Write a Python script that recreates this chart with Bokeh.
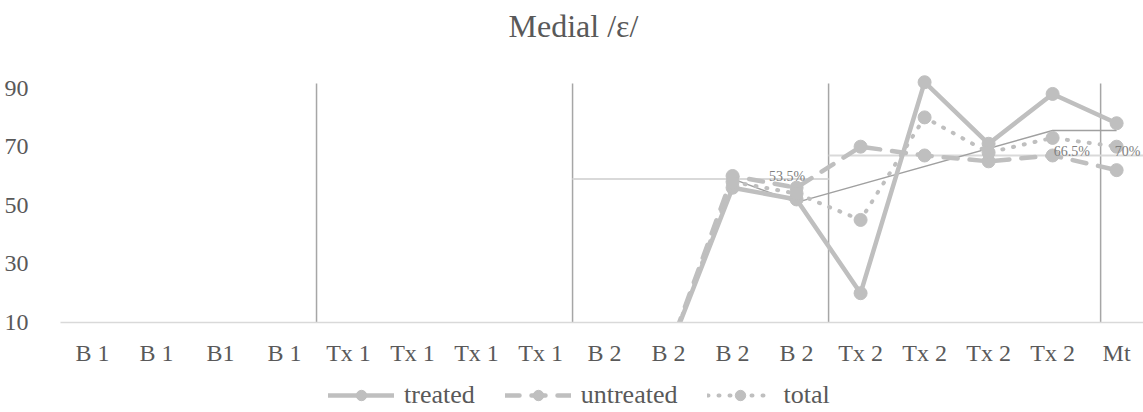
from bokeh.plotting import figure
from bokeh.layouts import column
from bokeh.models import Legend, LegendItem, FixedTicker, ColumnDataSource, Title
from bokeh.core.properties import value
from bokeh.embed import file_html
from bokeh.resources import INLINE

# ---- data ----
categories = ["B 1", "B 1", "B1", "B 1", "Tx 1", "Tx 1", "Tx 1", "Tx 1",
              "B 2", "B 2", "B 2", "B 2", "Tx 2", "Tx 2", "Tx 2", "Tx 2", "Mt"]
treated = [0, 0, 0, 0, 0, 0, 0, 0, 0, 0, 56, 52, 20, 92, 71, 88, 78]
untreated = [0, 0, 0, 0, 0, 0, 0, 0, 0, 0, 60, 56, 70, 67, 65, 67, 62]
total = [0, 0, 0, 0, 0, 0, 0, 0, 0, 0, 58, 54, 45, 80, 68, 73, 70]
series_names = ["treated", "untreated", "total"]

phase_lines = [3.5, 7.5, 11.5, 15.75]
phase_bottom = 10
phase_top = 91.6
mean_b2_x = [7.5, 11.5]
mean_b2_y = [59, 59]
mean_tx2_x = [11.5, 16.5]
mean_tx2_y = [67, 67]
trend_x = [10, 11, 15, 16]
trend_y = [59, 51, 75.5, 75.5]
pct_labels = ["53.5%", "66.5%", "70%"]
pct_x = [10.85, 15.3, 16.17]
pct_y = [59.8, 68.2, 68.2]
y_ticks = [10, 30, 50, 70, 90]

FONT = "Liberation Serif"
TXT = "#595959"
SER = "#BFBFBF"
STYLES = [dict(line_width=4.5, line_dash="solid"),
          dict(line_width=4.5, line_dash="14 12"),
          dict(line_width=4, line_dash="1 10")]

xs = list(range(len(categories)))

p = figure(frame_width=1083, frame_height=252, output_backend="svg", toolbar_location=None,
           x_range=(-0.5, 16.42), y_range=(10, 96),
           min_border_left=60, min_border_right=0, min_border_top=70, min_border_bottom=50)
p.outline_line_color = None
p.xgrid.visible = False
p.ygrid.visible = False

p.title.visible = False
spacer = Title(text="\u00a0", text_font_size="6px", standoff=15)
p.add_layout(spacer, "above")
t = Title(text="Medial /ɛ/", align="left", offset=448, text_font=FONT,
          text_font_size="32px", text_color=TXT, text_font_style="normal", standoff=8)
p.add_layout(t, "above")

# phase lines
p.segment(x0=phase_lines, y0=[phase_bottom] * len(phase_lines),
          x1=phase_lines, y1=[phase_top] * len(phase_lines),
          line_color="#A6A6A6", line_width=1.5)

# mean lines and trend
p.line(mean_b2_x, mean_b2_y, line_color="#D9D9D9", line_width=2)
p.line(mean_tx2_x, mean_tx2_y, line_color="#D9D9D9", line_width=2)
p.line(trend_x, trend_y, line_color="#A0A0A0", line_width=1.5)

# series
for vals, st in zip([treated, untreated, total], STYLES):
    p.line(xs, vals, line_color=SER, line_cap="round", line_join="round", **st)
    p.scatter(xs, vals, size=13, marker="circle", color=SER)

src = ColumnDataSource(dict(x=pct_x, y=pct_y, t=pct_labels))
p.text("x", "y", text="t", source=src, text_font=value(FONT), text_font_size="14px",
       text_color="#808080", text_align="center", text_baseline="middle")

# axes
p.xaxis.ticker = FixedTicker(ticks=xs)
p.xaxis.major_label_overrides = {i: c for i, c in enumerate(categories)}
p.xaxis.major_tick_line_color = None
p.xaxis.minor_tick_line_color = None
p.xaxis.axis_line_color = "#D9D9D9"
p.xaxis.axis_line_width = 1.5
p.xaxis.major_label_text_font = FONT
p.xaxis.major_label_text_font_size = "24px"
p.xaxis.major_label_text_color = TXT
p.xaxis.major_label_standoff = 11

p.yaxis.ticker = FixedTicker(ticks=y_ticks)
p.yaxis.major_tick_line_color = None
p.yaxis.minor_tick_line_color = None
p.yaxis.axis_line_color = None
p.yaxis.major_label_text_font = FONT
p.yaxis.major_label_text_font_size = "24px"
p.yaxis.major_label_text_color = TXT
p.yaxis.major_label_standoff = 26

# legend strip below the chart (its renderers hold an off-range point so only the key shows)
lg = figure(width=1143, height=40, output_backend="svg", toolbar_location=None,
            x_axis_type=None, y_axis_type=None, x_range=(0, 1), y_range=(0, 1),
            min_border=0)
lg.outline_line_color = None
lg.xgrid.visible = False
lg.ygrid.visible = False
items = []
for name, st in zip(series_names, STYLES):
    lr = lg.line([-2, -1], [-2, -2], line_color=SER, line_cap="round", line_join="round", **st)
    sr = lg.scatter([-2], [-2], size=13, marker="circle", color=SER)
    items.append(LegendItem(label=name, renderers=[lr, sr]))
legend = Legend(items=items, orientation="horizontal", location=(268, 2),
                border_line_color=None, background_fill_alpha=0,
                label_text_font=FONT, label_text_font_size="26px", label_text_color=TXT,
                glyph_width=66, glyph_height=26, spacing=30, label_standoff=10,
                margin=0, padding=0)
lg.add_layout(legend, "center")

layout = column(p, lg, spacing=0)
open("out.html", "w").write(file_html(layout, INLINE))
